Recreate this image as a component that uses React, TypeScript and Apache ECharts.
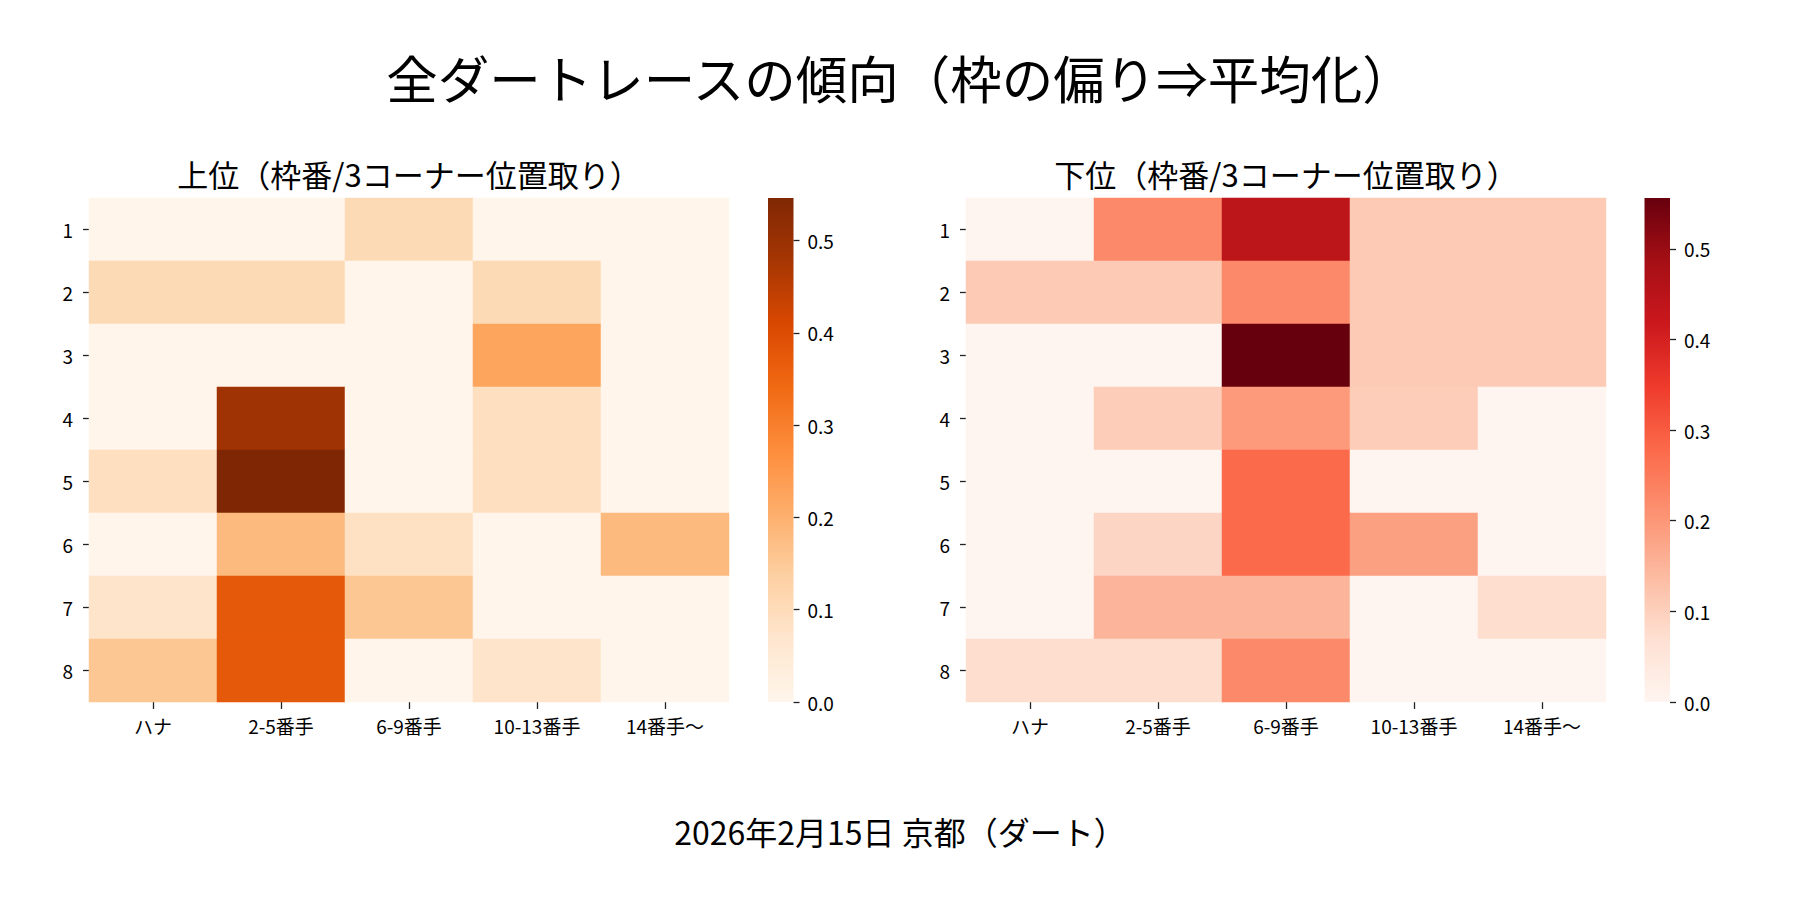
import React, { useEffect, useRef } from "react";
import * as echarts from "echarts";

const FONT = "'Noto Sans CJK JP', 'Noto Sans', sans-serif";

const mainTitle = "全ダートレースの傾向（枠の偏り⇒平均化）";
const leftTitle = "上位（枠番/3コーナー位置取り）";
const rightTitle = "下位（枠番/3コーナー位置取り）";
const footer = "2026年2月15日 京都（ダート）";

const cols = ["ハナ", "2-5番手", "6-9番手", "10-13番手", "14番手～"];
const rows = ["1", "2", "3", "4", "5", "6", "7", "8"];

// 上位 rows 1..8, columns as cols
const upper1 = [0, 0, 0.105, 0, 0];
const upper2 = [0.105, 0.105, 0, 0.105, 0];
const upper3 = [0, 0, 0, 0.225, 0];
const upper4 = [0, 0.49, 0, 0.09, 0];
const upper5 = [0.09, 0.546, 0, 0.09, 0];
const upper6 = [0, 0.18, 0.085, 0, 0.18];
const upper7 = [0.075, 0.375, 0.155, 0, 0];
const upper8 = [0.155, 0.375, 0, 0.075, 0];

// 下位
const lower1 = [0, 0.222, 0.444, 0.111, 0.111];
const lower2 = [0.111, 0.111, 0.222, 0.111, 0.111];
const lower3 = [0, 0, 0.556, 0.111, 0.111];
const lower4 = [0, 0.105, 0.195, 0.105, 0];
const lower5 = [0, 0, 0.278, 0, 0];
const lower6 = [0, 0.09, 0.278, 0.185, 0];
const lower7 = [0, 0.15, 0.15, 0, 0.074];
const lower8 = [0.074, 0.074, 0.222, 0, 0];

const cbTicks = [0, 0.1, 0.2, 0.3, 0.4, 0.5];

const oranges = ["#fff5eb", "#fee6ce", "#fdd0a2", "#fdae6b", "#fd8d3c", "#f16913", "#d94801", "#a63603", "#7f2704"];
const reds = ["#fff5f0", "#fee0d2", "#fcbba1", "#fc9272", "#fb6a4a", "#ef3b2c", "#cb181d", "#a50f15", "#67000d"];

const upperRows = [upper1, upper2, upper3, upper4, upper5, upper6, upper7, upper8];
const lowerRows = [lower1, lower2, lower3, lower4, lower5, lower6, lower7, lower8];

function toCells(m: number[][]) {
  const out: [number, number, number][] = [];
  m.forEach((r, ri) => r.forEach((v, ci) => out.push([ci, ri, v])));
  return out;
}
function maxOf(m: number[][]) {
  return Math.max(...m.map((r) => Math.max(...r)));
}
function gradient(stops: string[]) {
  return new echarts.graphic.LinearGradient(
    0, 1, 0, 0,
    stops.map((c, i) => ({ offset: i / (stops.length - 1), color: c }))
  );
}

const TOP = 198;
const H = 504;
const HW = 640;
const CBW = 25.5;
const L1 = 89;
const CB1 = 768;
const L2 = 966;
const CB2 = 1644.5;

const tickColor = "#222";

function heatAxes(gi: number) {
  return {
    x: {
      type: "category",
      gridIndex: gi,
      data: cols,
      axisLine: { show: false },
      axisTick: { show: true, alignWithLabel: true, length: 7, lineStyle: { color: tickColor, width: 1.3 } },
      axisLabel: { color: "#000", fontSize: 19, fontFamily: FONT, margin: 14 },
      splitLine: { show: false },
    },
    y: {
      type: "category",
      gridIndex: gi,
      data: rows,
      inverse: true,
      axisLine: { show: false },
      axisTick: { show: true, alignWithLabel: true, length: 6, lineStyle: { color: tickColor, width: 1.3 } },
      axisLabel: { color: "#000", fontSize: 19, fontFamily: FONT, margin: 16 },
      splitLine: { show: false },
    },
  };
}

function cbAxes(gi: number, vmax: number) {
  return {
    x: { type: "category", gridIndex: gi, data: [""], show: false },
    y: {
      type: "value",
      gridIndex: gi,
      position: "right",
      min: 0,
      max: vmax,
      axisLine: { show: false },
      splitLine: { show: false },
      axisTick: { show: true, length: 6, customValues: cbTicks, lineStyle: { color: tickColor, width: 1.3 } },
      axisLabel: {
        color: "#000",
        fontSize: 19,
        fontFamily: FONT,
        margin: 14,
        customValues: cbTicks,
        formatter: (v: number) => v.toFixed(1),
      },
    },
  };
}

export default function App() {
  const ref = useRef<HTMLDivElement>(null);
  useEffect(() => {
    if (!ref.current) return;
    const chart = echarts.init(ref.current, undefined, { renderer: "svg" });
    const vmaxU = maxOf(upperRows);
    const vmaxL = maxOf(lowerRows);
    const a0 = heatAxes(0);
    const a1 = cbAxes(1, vmaxU);
    const a2 = heatAxes(2);
    const a3 = cbAxes(3, vmaxL);
    chart.setOption({
      animation: false,
      backgroundColor: "#fff",
      textStyle: { fontFamily: FONT },
      grid: [
        { left: L1, top: TOP, width: HW, height: H },
        { left: CB1, top: TOP, width: CBW, height: H },
        { left: L2, top: TOP, width: HW, height: H },
        { left: CB2, top: TOP, width: CBW, height: H },
      ],
      xAxis: [a0.x, a1.x, a2.x, a3.x],
      yAxis: [a0.y, a1.y, a2.y, a3.y],
      visualMap: [
        { type: "continuous", show: false, min: 0, max: vmaxU, seriesIndex: 0, dimension: 2, inRange: { color: oranges } },
        { type: "continuous", show: false, min: 0, max: vmaxL, seriesIndex: 2, dimension: 2, inRange: { color: reds } },
      ],
      series: [
        {
          type: "heatmap",
          xAxisIndex: 0,
          yAxisIndex: 0,
          data: toCells(upperRows),
          itemStyle: { borderWidth: 0 },
          emphasis: { disabled: true },
        },
        {
          type: "bar",
          xAxisIndex: 1,
          yAxisIndex: 1,
          data: [vmaxU],
          barWidth: "100%",
          itemStyle: { color: gradient(oranges) },
          emphasis: { disabled: true },
        },
        {
          type: "heatmap",
          xAxisIndex: 2,
          yAxisIndex: 2,
          data: toCells(lowerRows),
          itemStyle: { borderWidth: 0 },
          emphasis: { disabled: true },
        },
        {
          type: "bar",
          xAxisIndex: 3,
          yAxisIndex: 3,
          data: [vmaxL],
          barWidth: "100%",
          itemStyle: { color: gradient(reds) },
          emphasis: { disabled: true },
        },
      ],
      graphic: [
        {
          type: "text",
          x: 900,
          y: 76,
          style: { text: mainTitle, fontSize: 51.5, fontFamily: FONT, fill: "#000", align: "center", verticalAlign: "middle" },
        },
        {
          type: "text",
          x: L1 + HW / 2,
          y: 173,
          style: { text: leftTitle, fontSize: 31, fontFamily: FONT, fill: "#000", align: "center", verticalAlign: "middle" },
        },
        {
          type: "text",
          x: L2 + HW / 2,
          y: 173,
          style: { text: rightTitle, fontSize: 31, fontFamily: FONT, fill: "#000", align: "center", verticalAlign: "middle" },
        },
        {
          type: "text",
          x: 900,
          y: 831,
          style: { text: footer, fontSize: 32, fontFamily: FONT, fill: "#000", align: "center", verticalAlign: "middle" },
        },
      ],
    });
    return () => chart.dispose();
  }, []);
  return (
    <div
      ref={ref}
      style={{ position: "fixed", left: 0, top: 0, width: 1800, height: 900, background: "#fff" }}
    />
  );
}
